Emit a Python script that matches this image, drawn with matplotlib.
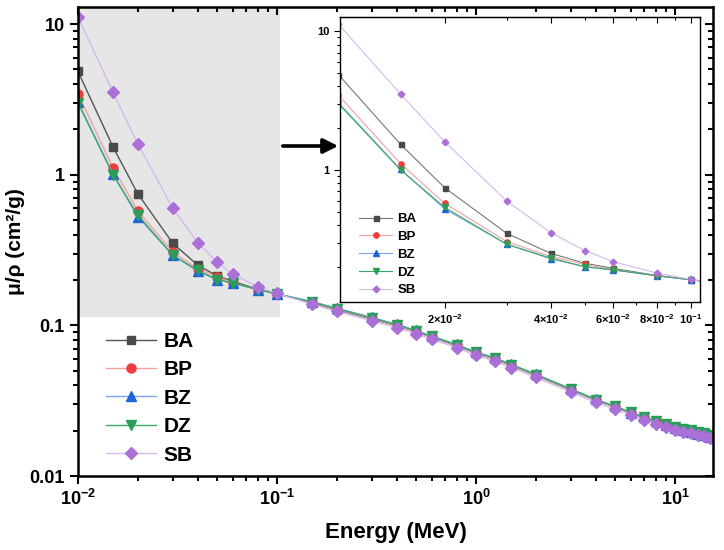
import numpy as np
import matplotlib
matplotlib.use('Agg')
import matplotlib.pyplot as plt
from matplotlib.ticker import FixedLocator, LogLocator, FuncFormatter, NullFormatter
from matplotlib.patches import Rectangle, FancyArrowPatch

plt.rcParams['font.family'] = 'Liberation Sans'
plt.rcParams['font.weight'] = 'bold'
plt.rcParams['mathtext.fontset'] = 'custom'
plt.rcParams['mathtext.rm'] = 'Liberation Sans:bold'
plt.rcParams['mathtext.bf'] = 'Liberation Sans:bold'
plt.rcParams['mathtext.it'] = 'Liberation Sans:bold'
plt.rcParams['mathtext.default'] = 'rm'

energy = [0.01, 0.015, 0.02, 0.03, 0.04, 0.05, 0.06, 0.08, 0.1, 0.15, 0.2, 0.3, 0.4,
          0.5, 0.6, 0.8, 1.0, 1.25, 1.5, 2, 3, 4, 5, 6, 7, 8, 9, 10, 11, 12, 13, 14, 15]
ba = [4.85, 1.53, 0.746, 0.350, 0.251, 0.213, 0.196, 0.174, 0.162, 0.141, 0.127, 0.110,
      0.0995, 0.0908, 0.0832, 0.0732, 0.0652, 0.0595, 0.0541, 0.0465, 0.0372, 0.0318,
      0.0287, 0.0262, 0.0244, 0.0230, 0.0217, 0.0210, 0.0204, 0.0199, 0.0194, 0.0190, 0.0186]
bp = [3.45, 1.11, 0.576, 0.305, 0.238, 0.209, 0.192, 0.173, 0.162, 0.142, 0.128, 0.111,
      0.1000, 0.0912, 0.0836, 0.0736, 0.0655, 0.0598, 0.0543, 0.0467, 0.0374, 0.0319,
      0.0288, 0.0263, 0.0245, 0.0231, 0.0218, 0.0211, 0.0204, 0.0199, 0.0194, 0.0190, 0.0186]
bz = [3.05, 1.01, 0.524, 0.292, 0.229, 0.201, 0.191, 0.173, 0.162, 0.144, 0.130, 0.113,
      0.1015, 0.0926, 0.0849, 0.0747, 0.0665, 0.0607, 0.0552, 0.0474, 0.0379, 0.0323,
      0.0290, 0.0264, 0.0245, 0.0231, 0.0217, 0.0209, 0.0202, 0.0196, 0.0191, 0.0186, 0.0181]
dz = [3.00, 1.00, 0.539, 0.292, 0.232, 0.201, 0.191, 0.173, 0.162, 0.143, 0.129, 0.112,
      0.1010, 0.0921, 0.0845, 0.0743, 0.0662, 0.0604, 0.0549, 0.0472, 0.0377, 0.0322,
      0.0290, 0.0265, 0.0247, 0.0233, 0.0220, 0.0212, 0.0206, 0.0201, 0.0196, 0.0192, 0.0188]
sb = [11.2, 3.52, 1.60, 0.598, 0.354, 0.263, 0.219, 0.181, 0.163, 0.138, 0.124, 0.107,
      0.0966, 0.0881, 0.0808, 0.0711, 0.0633, 0.0578, 0.0525, 0.0451, 0.0361, 0.0308,
      0.0278, 0.0254, 0.0236, 0.0223, 0.0210, 0.0203, 0.0197, 0.0192, 0.0187, 0.0184, 0.0180]

names = ['BA', 'BP', 'BZ', 'DZ', 'SB']
values = [ba, bp, bz, dz, sb]
markers = ['s', 'o', '^', 'v', 'D']
mcolors = ['#4a4a4a', '#f03c3c', '#1f63d8', '#2a9e58', '#aa70d8']
lcolors = ['#555555', '#f4a0a0', '#7fa6e8', '#3aa86a', '#d6b8ee']
msizes = [6.0, 6.5, 7.0, 7.0, 5.8]
ins_msizes = [3.6, 3.8, 4.2, 4.2, 3.4]

fig = plt.figure(figsize=(7.24, 5.5), dpi=100)
ax = fig.add_axes([0.1077, 0.1345, 0.877, 0.8528])

# shaded zoom region
ax.add_patch(Rectangle((0.01, 0.113), 0.104 - 0.01, 14 - 0.113,
                       facecolor='#e6e6e6', edgecolor='none', zorder=0))
for name, v, m, mc, lc, ms in zip(names, values, markers, mcolors, lcolors, msizes):
    ax.plot(energy, v, color=lc, lw=1.0, marker=m, ms=ms, mfc=mc, mec=mc, label=name, zorder=2)

ax.set_xscale('log')
ax.set_yscale('log')
ax.set_xlim(0.01, 15.5)
ax.set_ylim(0.01, 13)
ax.xaxis.set_major_formatter(FuncFormatter(lambda v, p: r'$10^{%d}$' % round(np.log10(v))))
ax.yaxis.set_major_locator(FixedLocator([0.01, 0.1, 1, 10]))
ax.yaxis.set_major_formatter(FuncFormatter(lambda v, p: '%g' % v))
ax.tick_params(which='both', direction='out', labelsize=13, width=1.5)
ax.tick_params(which='major', length=6)
ax.tick_params(which='minor', length=3.5)
for s in ax.spines.values():
    s.set_linewidth(1.8)

top = ax.secondary_xaxis('top')
top.tick_params(which='both', direction='in', labeltop=False, width=1.5)
top.tick_params(which='major', length=6)
top.tick_params(which='minor', length=3.5)
top.xaxis.set_major_formatter(NullFormatter())
top.xaxis.set_minor_formatter(NullFormatter())
right = ax.secondary_yaxis('right')
right.yaxis.set_major_locator(FixedLocator([0.01, 0.1, 1, 10]))
right.tick_params(which='both', direction='in', labelright=False, width=1.5)
right.tick_params(which='major', length=6)
right.tick_params(which='minor', length=3.5)
right.yaxis.set_major_formatter(NullFormatter())
right.yaxis.set_minor_formatter(NullFormatter())

ax.set_xlabel('Energy (MeV)', fontsize=16, fontweight='bold')
ax.set_ylabel('μ/ρ (cm²/g)', fontsize=15, fontweight='bold')
ax.yaxis.set_label_coords(-0.083, 0.5)
ax.xaxis.set_label_coords(0.5, -0.097)

ax.legend(loc='upper left', bbox_to_anchor=(0.044, 0.307), frameon=False,
          borderaxespad=0, borderpad=0,
          prop={'size': 15, 'weight': 'bold'}, handlelength=2.4,
          labelspacing=0.45, handletextpad=0.35)

fig.patches.append(FancyArrowPatch(
    (280 / 724, 1 - 146 / 550), (341 / 724, 1 - 146 / 550), transform=fig.transFigure,
    arrowstyle='-|>', mutation_scale=22, lw=2.6, color='black'))

ins = fig.add_axes([0.4696, 0.4509, 0.497, 0.518])
for name, v, m, mc, lc, ms in zip(names, values, markers, mcolors, lcolors, ins_msizes):
    ins.plot(energy, v, color=lc if name != 'BA' else '#777777', lw=0.8, marker=m, ms=ms,
             mfc=mc, mec=mc, label=name)
ins.set_xscale('log')
ins.set_yscale('log')
ins.set_xlim(0.0101, 0.106)
ins.set_ylim(0.112, 12.6)
ins.xaxis.set_major_locator(FixedLocator([0.02, 0.04, 0.06, 0.08, 0.1]))
ins.xaxis.set_major_formatter(FuncFormatter(
    lambda v, p: r'$10^{-1}$' if abs(v - 0.1) < 1e-9 else r'$%d{\times}10^{-2}$' % round(v * 100)))
ins.xaxis.set_minor_locator(LogLocator(base=10, subs=np.arange(1, 10) / 1.0, numticks=20))
ins.xaxis.set_minor_formatter(NullFormatter())
ins.yaxis.set_major_locator(FixedLocator([1, 10]))
ins.yaxis.set_major_formatter(FuncFormatter(lambda v, p: '%g' % v))
ins.yaxis.set_minor_formatter(NullFormatter())
ins.tick_params(which='both', direction='out', labelsize=8, width=0.8)
ins.tick_params(which='major', length=4)
ins.tick_params(which='minor', length=2.5)
for s in ins.spines.values():
    s.set_linewidth(1.0)
itop = ins.secondary_xaxis('top')
itop.xaxis.set_major_locator(FixedLocator([0.02, 0.04, 0.06, 0.08, 0.1]))
itop.xaxis.set_minor_locator(LogLocator(base=10, subs=np.arange(1, 10) / 1.0, numticks=20))
itop.xaxis.set_major_formatter(NullFormatter())
itop.xaxis.set_minor_formatter(NullFormatter())
itop.tick_params(which='both', direction='in', width=0.8)
itop.tick_params(which='major', length=4)
itop.tick_params(which='minor', length=2.5)
ins.legend(loc='lower left', bbox_to_anchor=(0.02, -0.022), frameon=False,
           prop={'size': 9.5, 'weight': 'bold'}, handlelength=2.5,
           labelspacing=0.42, handletextpad=0.4)

fig.savefig('out.png', dpi=100)
